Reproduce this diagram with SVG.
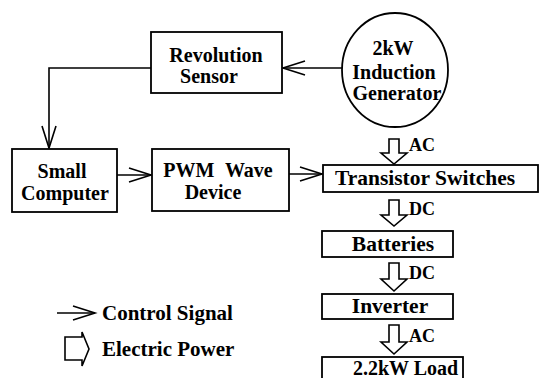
<svg xmlns="http://www.w3.org/2000/svg" width="540" height="378" viewBox="0 0 540 378">
<defs>
<style>
.box{fill:#fff;stroke:#000;stroke-width:1.8}
.ln{fill:none;stroke:#000;stroke-width:1.6}
.pw{fill:#fff;stroke:#000;stroke-width:1.6;stroke-linejoin:miter}
text{font-family:'Liberation Serif','Times New Roman',Tinos,'DejaVu Serif',serif;font-weight:bold;fill:#000}
.t{font-size:20px}
.b{font-size:21.5px}
.g{font-size:21px}
.s{font-size:18px}
.c{text-anchor:middle}
</style>
<marker id="open" markerUnits="userSpaceOnUse" markerWidth="30" markerHeight="20" viewBox="-24 -10 26 20" refX="0" refY="0" orient="auto">
<path d="M-22,-7 L0,0 L-22,7" fill="none" stroke="#000" stroke-width="1.6"/>
</marker>
</defs>
<rect width="540" height="378" fill="#fff"/>

<g id="connectors">
<path class="ln" d="M342,68 H283" marker-end="url(#open)"/>
<path class="ln" d="M151,68 H49 V148" marker-end="url(#open)"/>
<path class="ln" d="M117,175 H151" marker-end="url(#open)"/>
<path class="ln" d="M289,174 H322" marker-end="url(#open)"/>
<path class="pw" d="M389,139 H399 V153 H407 L394,164 L381,153 H389 Z"/>
<text class="s" x="409" y="151">AC</text>
<path class="pw" d="M389,200 H399 V215 H407 L394,226 L381,215 H389 Z"/>
<text class="s" x="409" y="215">DC</text>
<path class="pw" d="M389,263 H399 V279 H407 L394,291 L381,279 H389 Z"/>
<text class="s" x="409" y="279">DC</text>
<path class="pw" d="M389,325 H399 V342 H407 L394,354 L381,342 H389 Z"/>
<text class="s" x="409" y="342">AC</text>
</g>

<g id="revolution-sensor">
<rect class="box" x="151" y="32" width="131" height="61"/>
<text class="t c" x="216" y="62">Revolution</text>
<text class="t c" x="209" y="83">Sensor</text>
</g>

<g id="induction-generator">
<ellipse class="box" cx="395" cy="70" rx="53" ry="57"/>
<text class="t c" x="393" y="55">2kW</text>
<text class="t c" x="394" y="79">Induction</text>
<text class="t c" x="397" y="100">Generator</text>
</g>

<g id="small-computer">
<rect class="box" x="12" y="149" width="105" height="63"/>
<text class="t c" x="62" y="178">Small</text>
<text class="t c" x="65" y="200">Computer</text>
</g>

<g id="pwm-wave-device">
<rect class="box" x="152" y="149" width="137" height="62"/>
<text class="t c" x="218" y="177" word-spacing="6">PWM Wave</text>
<text class="t c" x="213" y="199">Device</text>
</g>

<g id="transistor-switches">
<rect class="box" x="323" y="165" width="215" height="27"/>
<text class="b c" x="425" y="185">Transistor Switches</text>
</g>

<g id="batteries">
<rect class="box" x="322" y="231" width="131" height="26"/>
<text class="b c" x="393" y="251">Batteries</text>
</g>

<g id="inverter">
<rect class="box" x="322" y="294" width="131" height="25"/>
<text class="b c" x="390" y="313">Inverter</text>
</g>

<g id="load">
<rect class="box" x="322" y="357" width="141" height="30"/>
<text class="t" x="353" y="375">2.2kW Load</text>
</g>

<g id="legend">
<path class="ln" d="M57,313 H95" marker-end="url(#open)"/>
<text class="g" x="102" y="320">Control Signal</text>
<path class="pw" d="M65,337 H82 V332 L89,349 L82,366 V360 H65 Z"/>
<text class="g" x="102" y="356">Electric Power</text>
</g>
</svg>
